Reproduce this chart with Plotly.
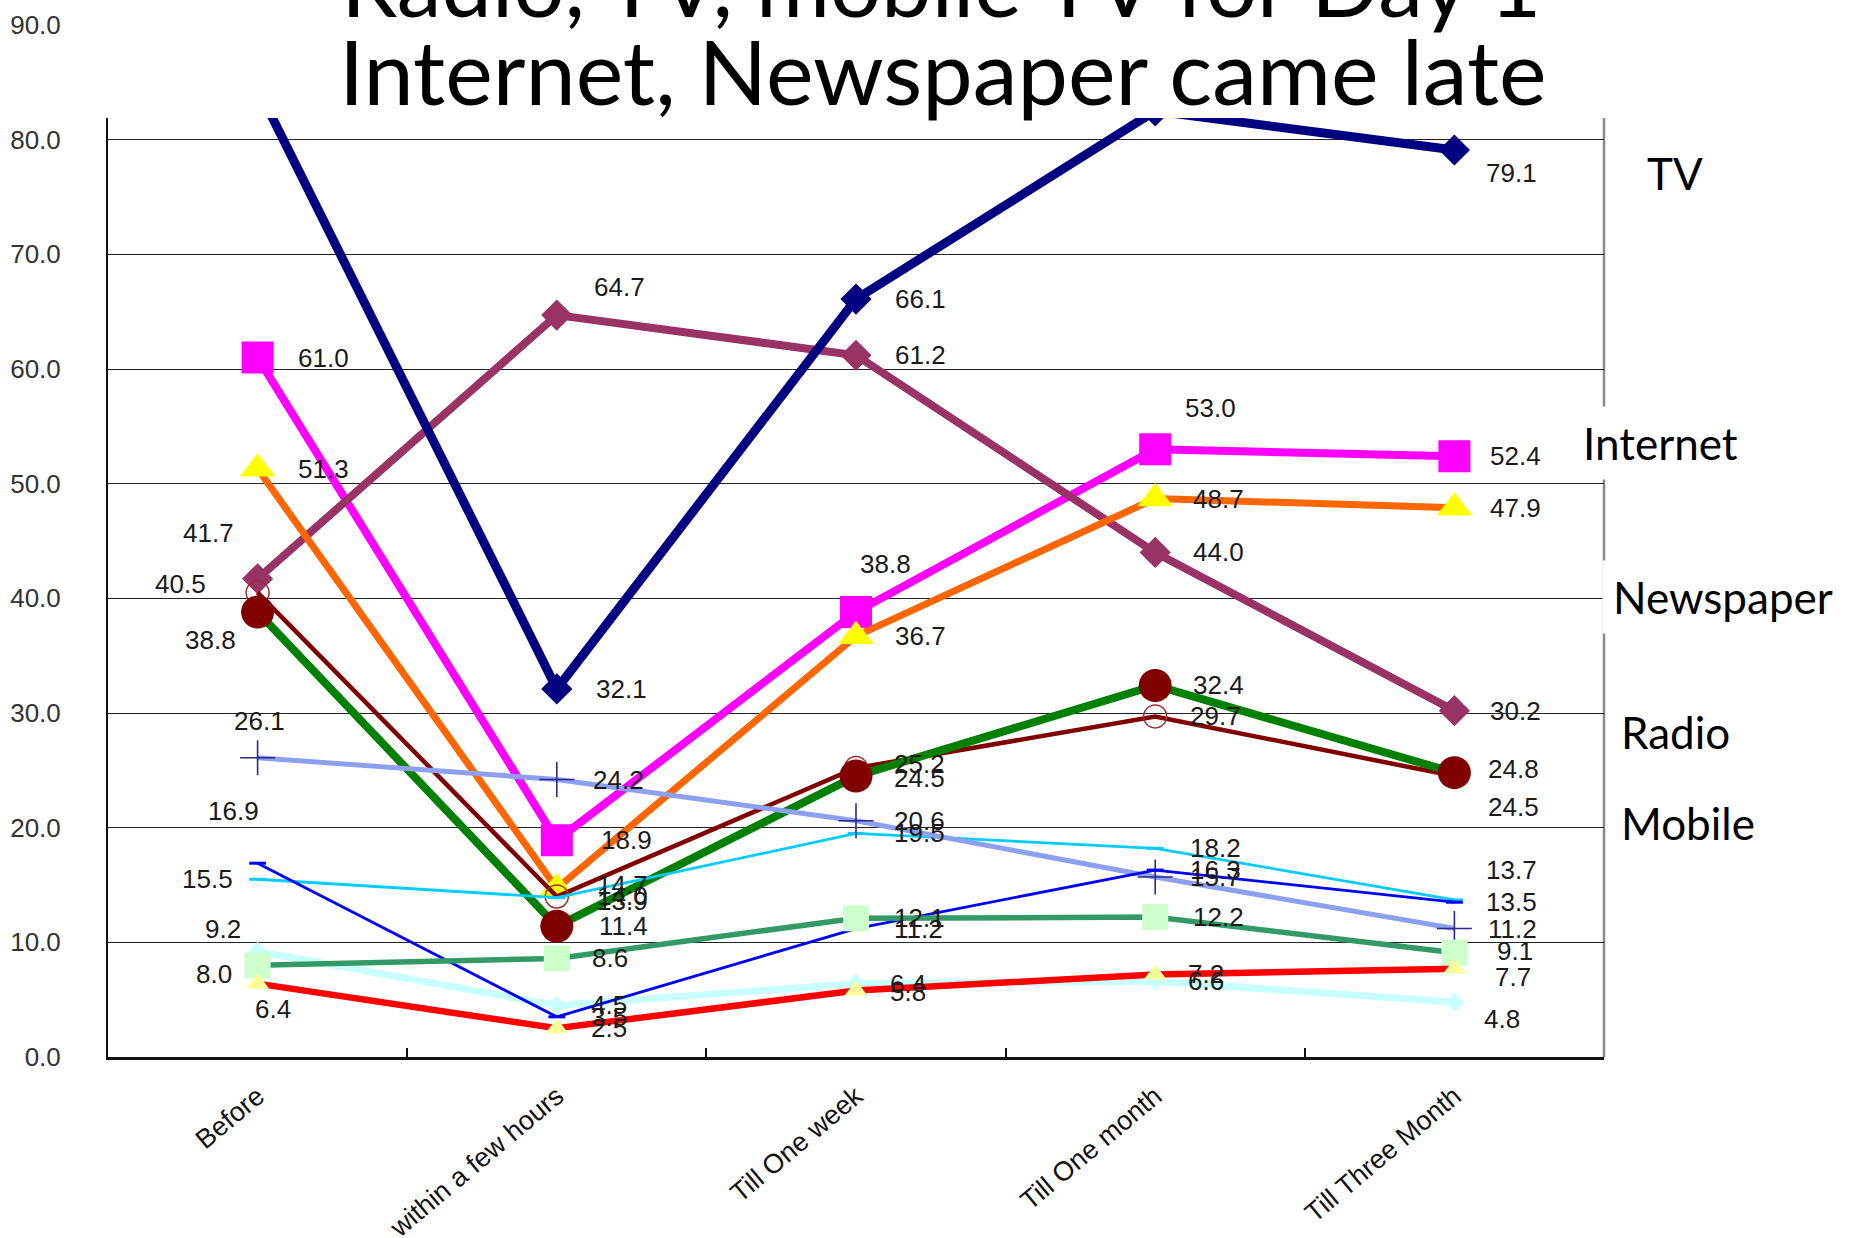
import plotly.graph_objects as go

# ---------------- data ----------------
categories = ["Before", "within a few hours", "Till One week", "Till One month", "Till Three Month"]

tv = [84.5, 32.1, 66.1, 82.5, 79.1]
newspaper = [41.7, 64.7, 61.2, 44.0, 30.2]
internet = [61.0, 18.9, 38.8, 53.0, 52.4]
internet_b = [51.3, 14.7, 36.7, 48.7, 47.9]
radio_a = [38.8, 11.4, 24.5, 32.4, 24.8]
radio_b = [40.5, 14.0, 25.2, 29.7, 24.5]
mobile_a = [26.1, 24.2, 20.6, 15.7, 11.2]
mobile_b = [15.5, 13.9, 19.5, 18.2, 13.7]
mobile_c = [16.9, 3.5, 11.2, 16.3, 13.5]
other_a = [8.0, 8.6, 12.1, 12.2, 9.1]
other_b = [9.2, 4.5, 6.4, 6.6, 4.8]
other_c = [6.4, 2.5, 5.8, 7.2, 7.7]

title_line1 = "Radio, TV, mobile TV for Day 1"
title_line2 = "Internet, Newspaper came late"
side_labels = ["TV", "Internet", "Newspaper", "Radio", "Mobile"]

# ---------------- geometry / style ----------------
W, H = 1849, 1238
ML, MR, MT, MB = 108, 245, 25, 181
PW, PH = W - ML - MR, H - MT - MB
YMAX = 90.0
BOX_BOTTOM = 118  # px: bottom of the white title box


def px_x(px):
    return (px - ML) / PW


def px_y(py):
    return (H - MB - py) / PH


# series: (name, values, line color, line width, marker symbol, marker size, marker color,
#          marker line color, marker line width, label offsets (dx, dy) px)
series = [
    ("Internet", internet, "#FF00FF", 8, "square", 32, "#FF00FF", "#FF00FF", 0,
     [(38, 0), (42, 0), (2, -48), (28, -41), (34, 0)]),
    ("Newspaper", newspaper, "#993366", 8, "diamond", 24, "#993366", "#993366", 0,
     [(-77, -46), (35, -28), (37, 0), (36, 0), (34, 0)]),
    ("TV", tv, "#000080", 9, "diamond", 24, "#000080", "#000080", 0,
     [(37, 0), (37, 0), (37, 0), (37, 0), (30, 23)]),
    ("Internet 2", internet_b, "#FF6600", 7, "triangle-up", 31, "#FFFF00", "#FFFF00", 0,
     [(38, 0), (38, -3), (37, 0), (36, 0), (34, 0)]),
    ("Radio 2", radio_b, "#800000", 4.5, "circle-open", 23, "#a03030", "#a03030", 1.5,
     [(-105, -9), (38, 0), (36, -4), (33, 0), (32, 31)]),
    ("Radio", radio_a, "#008000", 8, "circle", 33, "#800000", "#800000", 0,
     [(-75, 28), (40, 0), (36, 2), (36, 0), (32, -4)]),
    ("Mobile 2", mobile_b, "#00CCFF", 2.8, "line-ew", 12, "#00CCFF", "#00CCFF", 3,
     [(-78, 0), (38, 3), (36, 0), (33, 0), (30, -30)]),
    ("Mobile", mobile_a, "#8c9ff0", 5, "cross-thin", 25, "#2a2a8a", "#2a2a8a", 1.6,
     [(-26, -37), (34, 0), (36, 0), (33, 0), (32, 0)]),
    ("Other 2", other_b, "#C8FFFF", 7, "diamond", 15, "#C8FFFF", "#C8FFFF", 0,
     [(-55, -23), (32, 0), (32, 0), (31, 0), (28, 17)]),
    ("Mobile 3", mobile_c, "#0000FF", 2.8, "line-ew", 12, "#0000FF", "#0000FF", 3,
     [(-52, -52), (32, 0), (36, 0), (33, 0), (30, 0)]),
    ("Other", other_a, "#339966", 5.5, "square", 26, "#CCFFCC", "#CCFFCC", 0,
     [(-64, 9), (33, 0), (36, 0), (36, 0), (41, -2)]),
    ("Other 3", other_c, "#FF0000", 6.5, "triangle-up", 20, "#FFFF99", "#FFFF99", 0,
     [(-5, 25), (32, 0), (32, 2), (31, 0), (39, 8)]),
]

fig = go.Figure()
annotations = []
label_font = dict(family="Liberation Sans, Arial, sans-serif", size=26, color="#1a1a1a")

for name, vals, lc, lw, sym, ms, mc, mlc, mlw, offs in series:
    fig.add_trace(go.Scatter(
        x=categories, y=vals, mode="lines+markers", name=name,
        line=dict(color=lc, width=lw),
        marker=dict(symbol=sym, size=ms, color=mc, line=dict(color=mlc, width=mlw)),
        cliponaxis=True, showlegend=False, hoverinfo="x+y+name",
    ))
    for i, v in enumerate(vals):
        dx, dy = offs[i]
        py = H - MB - v / YMAX * PH + dy
        if py < BOX_BOTTOM + 5:
            continue  # hidden behind the title box
        annotations.append(dict(
            x=categories[i], y=v, xref="x", yref="y", text=f"{v:.1f}",
            showarrow=False, xanchor="left", yanchor="middle",
            xshift=dx, yshift=-dy, font=label_font,
        ))

# right-hand side labels
side_font = dict(family="Lato, sans-serif", size=44, color="#000")
side_pos = [(1647, 173), (1583, 443), (1613, 597), (1621, 732), (1621, 823)]
for txt, (lx, ly) in zip(side_labels, side_pos):
    annotations.append(dict(
        x=px_x(lx - 11), y=px_y(ly), xref="paper", yref="paper", text=txt,
        showarrow=False, xanchor="left", yanchor="middle", font=side_font,
        bgcolor="white", borderpad=10,
    ))

# title (two lines)
title_font = dict(family="Lato, sans-serif", size=90, color="#000")
annotations.append(dict(x=px_x(941), y=px_y(-18), xref="paper", yref="paper", text=title_line1,
                        showarrow=False, xanchor="center", yanchor="middle", font=title_font))
annotations.append(dict(x=px_x(943), y=px_y(70), xref="paper", yref="paper", text=title_line2,
                        showarrow=False, xanchor="center", yanchor="middle", font=title_font))

shapes = [
    # right border of the plot area (grey)
    dict(type="line", xref="paper", yref="paper", x0=1, x1=1, y0=0, y1=1,
         line=dict(color="#8a8a8a", width=2.5), layer="below"),
    # white title box covering the top of the plot
    dict(type="rect", xref="paper", yref="paper", x0=px_x(72), x1=px_x(W + 10),
         y0=px_y(BOX_BOTTOM), y1=px_y(-20), fillcolor="white", line=dict(width=0), layer="above"),
]

fig.update_layout(
    width=W, height=H,
    margin=dict(l=ML, r=MR, t=MT, b=MB, autoexpand=False),
    paper_bgcolor="white", plot_bgcolor="white",
    annotations=annotations, shapes=shapes,
    xaxis=dict(
        type="category", range=[-0.5, 4.5], showline=True, linecolor="#111", linewidth=2.5,
        ticks="inside", tickson="boundaries", ticklen=9, tickcolor="#111", tickwidth=1.5,
        tickangle=-40, tickfont=dict(family="Liberation Sans, Arial, sans-serif", size=27, color="#111"),
        showgrid=False, zeroline=False, ticklabelstandoff=10,
    ),
    yaxis=dict(
        range=[0, YMAX], dtick=10, tick0=0, tickformat=".1f", showline=True, linecolor="#111",
        linewidth=2, showgrid=True, gridcolor="#222", gridwidth=1.3, ticks="", zeroline=False,
        tickfont=dict(family="Liberation Sans, Arial, sans-serif", size=26, color="#333"),
        ticklabelstandoff=40,
    ),
)

fig.write_html("out.html")
